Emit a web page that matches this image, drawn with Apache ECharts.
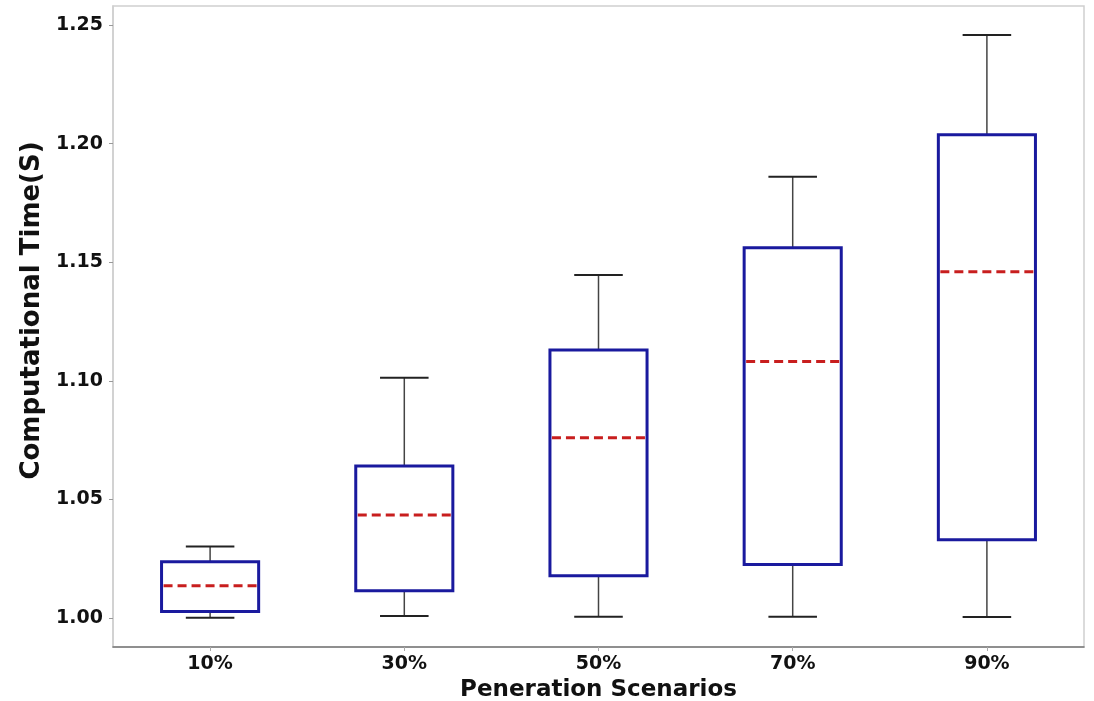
<!DOCTYPE html>
<html>
<head>
<meta charset="utf-8">
<script src="https://cdn.jsdelivr.net/npm/echarts@6/dist/echarts.min.js"></script>
<style>html,body{margin:0;padding:0;background:#fff}#c{width:1094px;height:701px}</style>
</head>
<body>
<div id="c"></div>
<script>
const categories = ['10%', '30%', '50%', '70%', '90%'];
const minVals    = [1.0001, 1.0008, 1.0005, 1.0005, 1.0004];
const q1Vals     = [1.0027, 1.0115, 1.0178, 1.0226, 1.0330];
const medianVals = [1.0136, 1.0434, 1.0760, 1.1081, 1.1460];
const q3Vals     = [1.0237, 1.0641, 1.1130, 1.1561, 1.2037];
const maxVals    = [1.0301, 1.1013, 1.1446, 1.1860, 1.2458];
const yTicks = [1.00, 1.05, 1.10, 1.15, 1.20, 1.25];

const data = categories.map((c, i) => [i, minVals[i], q1Vals[i], medianVals[i], q3Vals[i], maxVals[i]]);

function renderItem(params, api) {
  const i = api.value(0);
  const band = api.size([1, 0])[0];
  const boxW = band * 0.5;
  const capW = boxW * 0.5;
  const pMin = api.coord([i, api.value(1)]);
  const pQ1 = api.coord([i, api.value(2)]);
  const pMed = api.coord([i, api.value(3)]);
  const pQ3 = api.coord([i, api.value(4)]);
  const pMax = api.coord([i, api.value(5)]);
  const x = pQ1[0];
  const whisk = {stroke: '#444', lineWidth: 1.5};
  const cap = {stroke: '#222', lineWidth: 2};
  return {
    type: 'group',
    children: [
      {type: 'line', shape: {x1: x, y1: pMin[1], x2: x, y2: pQ1[1]}, style: whisk},
      {type: 'line', shape: {x1: x, y1: pQ3[1], x2: x, y2: pMax[1]}, style: whisk},
      {type: 'line', shape: {x1: x - capW / 2, y1: pMin[1], x2: x + capW / 2, y2: pMin[1]}, style: cap},
      {type: 'line', shape: {x1: x - capW / 2, y1: pMax[1], x2: x + capW / 2, y2: pMax[1]}, style: cap},
      {type: 'rect', shape: {x: x - boxW / 2, y: pQ3[1], width: boxW, height: pQ1[1] - pQ3[1]},
        style: {fill: 'none', stroke: '#1a1a9e', lineWidth: 3}},
      {type: 'line', shape: {x1: x - boxW / 2 + 2, y1: pMed[1], x2: x + boxW / 2 - 2, y2: pMed[1]},
        style: {stroke: '#c81e1e', lineWidth: 3, lineDash: [9, 5]}}
    ]
  };
}

const font = 'DejaVu Sans';
const chart = echarts.init(document.getElementById('c'), null, {renderer: 'canvas'});
chart.setOption({
  animation: false,
  backgroundColor: '#fff',
  grid: {left: 113, right: 10, top: 6, bottom: 54, show: true, borderColor: '#cfcfcf', borderWidth: 1.5,
    containLabel: false, outerBoundsMode: 'none'},
  xAxis: {
    type: 'category',
    data: categories,
    boundaryGap: true,
    name: 'Peneration Scenarios',
    nameLocation: 'middle',
    nameGap: 31,
    nameTextStyle: {fontFamily: font, fontWeight: 'bold', fontSize: 23, color: '#111'},
    axisLine: {lineStyle: {color: '#777', width: 1.5}},
    axisTick: {show: true, alignWithLabel: true, length: 4, lineStyle: {color: '#aaa'}},
    axisLabel: {fontFamily: font, fontWeight: 'bold', fontSize: 19, color: '#111', margin: 8},
    splitLine: {show: false}
  },
  yAxis: {
    type: 'value',
    min: 0.98777,
    max: 1.2580,
    name: 'Computational Time(S)',
    nameLocation: 'middle',
    nameGap: 57,
    nameTextStyle: {fontFamily: font, fontWeight: 'bold', fontSize: 26, color: '#111', padding: [0, 0, 0, 32]},
    axisLine: {show: true, lineStyle: {color: '#cfcfcf', width: 1.5}},
    axisTick: {show: true, length: 4, customValues: yTicks, lineStyle: {color: '#999'}},
    axisLabel: {fontFamily: font, fontWeight: 'bold', fontSize: 19, color: '#111', margin: 10,
      customValues: yTicks, formatter: v => v.toFixed(2)},
    splitLine: {show: false}
  },
  series: [{
    type: 'custom',
    renderItem: renderItem,
    encode: {x: 0, y: [1, 2, 3, 4, 5]},
    data: data,
    clip: false
  }]
});
</script>
</body>
</html>
